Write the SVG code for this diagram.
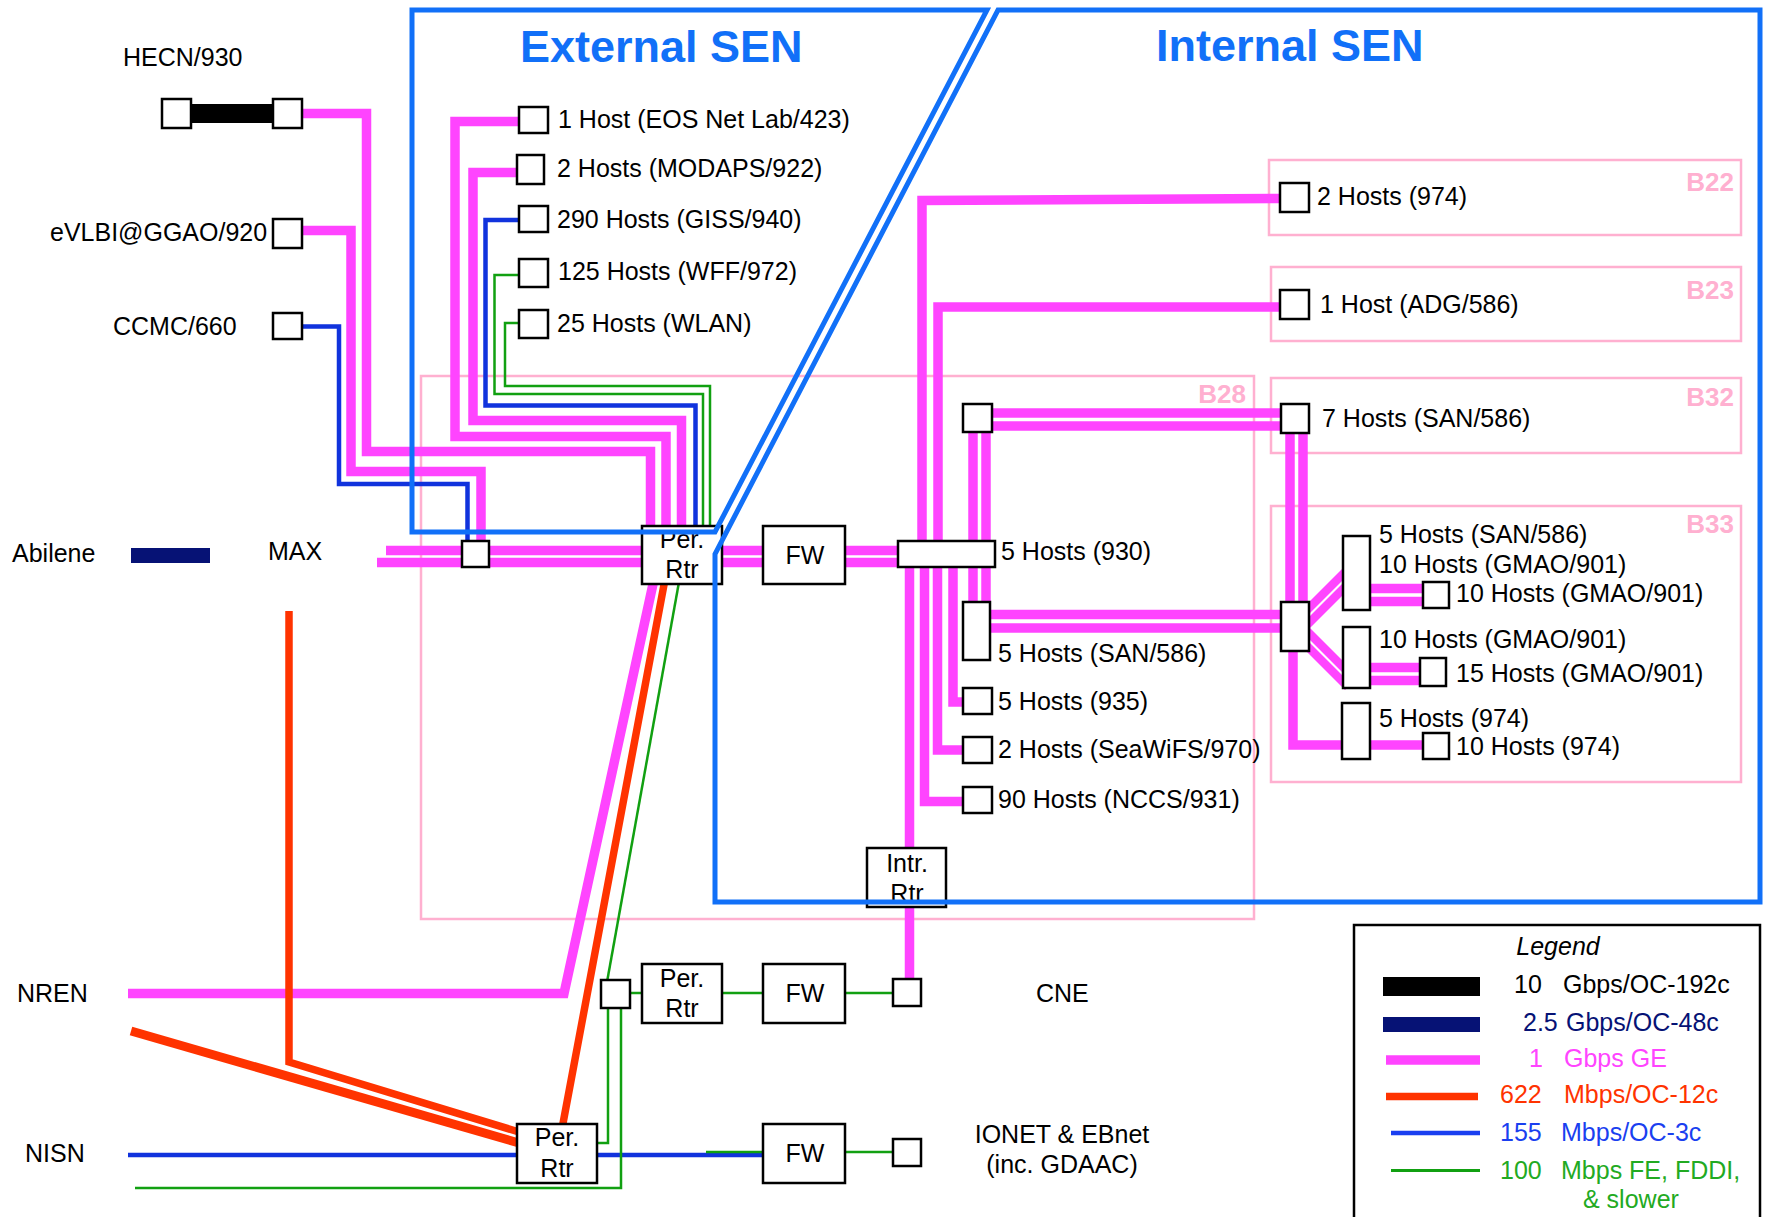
<svg xmlns="http://www.w3.org/2000/svg" width="1766" height="1217" viewBox="0 0 1766 1217">
<style>
.lbl{font-family:"Liberation Sans",Arial,sans-serif;font-size:25px;fill:#000}
.mid{text-anchor:middle}
.box{fill:#fff;stroke:#000;stroke-width:2.5}
.ge{fill:none;stroke:#ff44ff;stroke-width:9.5}
.ge2{fill:none;stroke:#ff44ff;stroke-width:8.5}
.oc12{fill:none;stroke:#ff3300;stroke-width:7.5}
.oc3{fill:none;stroke:#1133dd;stroke-width:4.5}
.fe{fill:none;stroke:#11a011;stroke-width:2.5}
.g10{fill:none;stroke:#000;stroke-width:19}
.g25{fill:none;stroke:#061275;stroke-width:15}
.bldg{fill:none;stroke:#ffb0d0;stroke-width:2.5}
.blbl{font-family:"Liberation Sans",Arial,sans-serif;font-size:26px;font-weight:bold;fill:#ffb0d0;text-anchor:end}
.sen{fill:none;stroke:#1170f8;stroke-width:5}
.title{font-family:"Liberation Sans",Arial,sans-serif;font-size:45px;font-weight:bold;fill:#1170f8}
</style>

<g id="buildings">
<rect class="bldg" x="421" y="376" width="833" height="543"/><text class="blbl" x="1246" y="403">B28</text>
<rect class="bldg" x="1269" y="160" width="472" height="75"/><text class="blbl" x="1734" y="191">B22</text>
<rect class="bldg" x="1271" y="267" width="470" height="74"/><text class="blbl" x="1734" y="299">B23</text>
<rect class="bldg" x="1271" y="378" width="470" height="75"/><text class="blbl" x="1734" y="406">B32</text>
<rect class="bldg" x="1271" y="506" width="470" height="276"/><text class="blbl" x="1734" y="533">B33</text>
</g>

<g id="connectors">
<line class="g10" x1="191" y1="113.5" x2="273" y2="113.5"/>
<line class="g25" x1="131" y1="555.5" x2="210" y2="555.5"/>
<path class="ge" d="M302,113.5 H366.5 V451.5 H650.5 V530"/>
<path class="ge" d="M302,230.5 H351 V471.5 H481 V545"/>
<path class="ge" d="M519,121.5 H455 V436.5 H666 V530"/>
<path class="ge" d="M517,172.5 H473 V420.5 H681.5 V530"/>
<path class="ge" d="M386,550.5 H900"/>
<path class="ge" d="M377,562.5 H900"/>
<path class="ge" d="M128,993.5 H564 L653,584"/>
<path class="ge" d="M909.5,560 V982"/>
<path class="ge" d="M922,545 V200.5 L1282,198.5"/>
<path class="ge" d="M938,545 V307 H1282"/>
<path class="ge" d="M973,430 V604"/>
<path class="ge" d="M986,430 V604"/>
<path class="ge" d="M990,413 H1283"/>
<path class="ge" d="M990,426 H1283"/>
<path class="ge" d="M953,565 V702 H965"/>
<path class="ge" d="M937.5,565 V750 H965"/>
<path class="ge" d="M924.5,565 V801.5 H965"/>
<path class="ge" d="M988,614.5 H1283"/>
<path class="ge" d="M988,628 H1283"/>
<path class="ge" d="M1290,431 V604"/>
<path class="ge" d="M1303,431 V604"/>
<path class="ge2" d="M1300,617 L1348,569"/>
<path class="ge2" d="M1300,632 L1348,584"/>
<path class="ge2" d="M1300,624 L1348,672"/>
<path class="ge2" d="M1300,639 L1348,687"/>
<path class="ge" d="M1368,588.5 H1425"/>
<path class="ge" d="M1368,601.5 H1425"/>
<path class="ge" d="M1368,667.5 H1422"/>
<path class="ge" d="M1368,680.5 H1422"/>
<path class="ge" d="M1293,649 V745 H1425"/>
<path class="oc12" d="M289,611 V1062 L519,1132"/>
<path class="oc12" style="stroke-width:9" d="M131,1031 L519,1143"/>
<path class="oc12" d="M664.5,582 L562.5,1126"/>
<path class="oc3" d="M302,326.5 H339 V484 H467.5 V543"/>
<path class="oc3" d="M519,220 H485.5 V405.5 H695.5 V528"/>
<path class="oc3" d="M128,1155 H765"/>
<path class="fe" d="M519,275 H494.5 V394 H703 V528"/>
<path class="fe" d="M519,323 H505 V386 H710 V528"/>
<path class="fe" d="M679,582 L607,982"/>
<path class="fe" d="M628,993 H895"/>
<path class="fe" d="M595,1143 H608 V1006"/>
<path class="fe" d="M135,1188 H621 V1006"/>
<path class="fe" d="M706,1152 H895"/>
</g>

<g id="hecn-a"><rect class="box" x="162" y="99" width="29" height="29"/></g>
<g id="hecn-b"><rect class="box" x="273" y="99" width="29" height="29"/><text class="lbl" x="123" y="66">HECN/930</text></g>
<g id="evlbi"><rect class="box" x="273" y="219" width="29" height="29"/><text class="lbl" x="50" y="241">eVLBI@GGAO/920</text></g>
<g id="ccmc"><rect class="box" x="273" y="313" width="29" height="26"/><text class="lbl" x="113" y="335">CCMC/660</text></g>
<g id="abilene"><text class="lbl" x="12" y="562">Abilene</text></g>
<g id="max"><text class="lbl" x="268" y="560">MAX</text><rect class="box" x="462" y="541" width="27" height="26"/></g>
<g id="nren"><text class="lbl" x="17" y="1002">NREN</text></g>
<g id="nisn"><text class="lbl" x="25" y="1162">NISN</text></g>

<g id="eos"><rect class="box" x="519" y="107" width="29" height="26"/><text class="lbl" x="558" y="128">1 Host (EOS Net Lab/423)</text></g>
<g id="modaps"><rect class="box" x="517" y="155" width="27" height="29"/><text class="lbl" x="557" y="177">2 Hosts (MODAPS/922)</text></g>
<g id="giss"><rect class="box" x="519" y="206" width="29" height="26"/><text class="lbl" x="557" y="228">290 Hosts (GISS/940)</text></g>
<g id="wff"><rect class="box" x="519" y="259" width="29" height="28"/><text class="lbl" x="558" y="280">125 Hosts (WFF/972)</text></g>
<g id="wlan"><rect class="box" x="519" y="310" width="29" height="28"/><text class="lbl" x="557" y="332">25 Hosts (WLAN)</text></g>

<g id="per-rtr-1"><rect class="box" x="642" y="526" width="80" height="58"/><text class="lbl mid" x="682" y="548">Per.</text><text class="lbl mid" x="682" y="578">Rtr</text></g>
<g id="fw-1"><rect class="box" x="763" y="526" width="82" height="58"/><text class="lbl mid" x="805" y="564">FW</text></g>
<g id="sw930"><rect class="box" x="898" y="541" width="97" height="26"/><text class="lbl" x="1001" y="560">5 Hosts (930)</text></g>
<g id="b28-sw"><rect class="box" x="963" y="404" width="29" height="28"/></g>
<g id="san-b28"><rect class="box" x="963" y="602" width="27" height="58"/><text class="lbl" x="998" y="662">5 Hosts (SAN/586)</text></g>
<g id="h935"><rect class="box" x="963" y="688" width="29" height="26"/><text class="lbl" x="998" y="710">5 Hosts (935)</text></g>
<g id="seawifs"><rect class="box" x="963" y="737" width="29" height="26"/><text class="lbl" x="998" y="758">2 Hosts (SeaWiFS/970)</text></g>
<g id="nccs"><rect class="box" x="963" y="787" width="29" height="26"/><text class="lbl" x="998" y="808">90 Hosts (NCCS/931)</text></g>
<g id="intr-rtr"><rect class="box" x="867" y="848" width="79" height="59"/><text class="lbl mid" x="907" y="872">Intr.</text><text class="lbl mid" x="907" y="902">Rtr</text></g>

<g id="b22-host"><rect class="box" x="1280" y="183" width="29" height="29"/><text class="lbl" x="1317" y="205">2 Hosts (974)</text></g>
<g id="b23-host"><rect class="box" x="1280" y="290" width="29" height="29"/><text class="lbl" x="1320" y="313">1 Host (ADG/586)</text></g>
<g id="b32-host"><rect class="box" x="1281" y="404" width="28" height="29"/><text class="lbl" x="1322" y="427">7 Hosts (SAN/586)</text></g>
<g id="b33-sw"><rect class="box" x="1281" y="602" width="28" height="49"/></g>
<g id="b33-box1"><rect class="box" x="1343" y="536" width="27" height="74"/><text class="lbl" x="1379" y="543">5 Hosts (SAN/586)</text><text class="lbl" x="1379" y="573">10 Hosts (GMAO/901)</text></g>
<g id="b33-gmao10"><rect class="box" x="1423" y="582" width="26" height="26"/><text class="lbl" x="1456" y="602">10 Hosts (GMAO/901)</text></g>
<g id="b33-box2"><rect class="box" x="1343" y="627" width="27" height="61"/><text class="lbl" x="1379" y="648">10 Hosts (GMAO/901)</text></g>
<g id="b33-gmao15"><rect class="box" x="1420" y="658" width="26" height="28"/><text class="lbl" x="1456" y="682">15 Hosts (GMAO/901)</text></g>
<g id="b33-box3"><rect class="box" x="1342" y="703" width="28" height="56"/><text class="lbl" x="1379" y="727">5 Hosts (974)</text></g>
<g id="b33-h974"><rect class="box" x="1423" y="733" width="26" height="26"/><text class="lbl" x="1456" y="755">10 Hosts (974)</text></g>

<g id="cne-sw"><rect class="box" x="601" y="980" width="29" height="28"/></g>
<g id="per-rtr-2"><rect class="box" x="642" y="964" width="80" height="59"/><text class="lbl mid" x="682" y="987">Per.</text><text class="lbl mid" x="682" y="1017">Rtr</text></g>
<g id="fw-2"><rect class="box" x="763" y="964" width="82" height="59"/><text class="lbl mid" x="805" y="1002">FW</text></g>
<g id="cne"><rect class="box" x="893" y="979" width="28" height="27"/><text class="lbl" x="1036" y="1002">CNE</text></g>
<g id="per-rtr-3"><rect class="box" x="517" y="1124" width="80" height="59"/><text class="lbl mid" x="557" y="1146">Per.</text><text class="lbl mid" x="557" y="1177">Rtr</text></g>
<g id="fw-3"><rect class="box" x="763" y="1124" width="82" height="59"/><text class="lbl mid" x="805" y="1162">FW</text></g>
<g id="ionet"><rect class="box" x="893" y="1139" width="28" height="27"/><text class="lbl mid" x="1062" y="1143">IONET &amp; EBnet</text><text class="lbl mid" x="1062" y="1173">(inc. GDAAC)</text></g>

<g id="external-sen">
<path class="sen" d="M412,10 H987 L715,532 H412 Z"/>
<text class="title" x="520" y="62">External SEN</text>
</g>
<g id="internal-sen">
<path class="sen" d="M998,10 H1760 V902 H715 V554 Z"/>
<text class="title" x="1156" y="61">Internal SEN</text>
</g>

<g id="legend">
<rect x="1354" y="925" width="406" height="300" fill="#fff" stroke="#000" stroke-width="2.5"/>
<text class="lbl mid" x="1558" y="955" font-style="italic">Legend</text>
<line class="g10" x1="1383" y1="986.5" x2="1480" y2="986.5"/>
<text class="lbl" x="1514" y="993">10</text><text class="lbl" x="1563" y="993">Gbps/OC-192c</text>
<line class="g25" x1="1383" y1="1024.5" x2="1480" y2="1024.5"/>
<text class="lbl" x="1523" y="1031" style="fill:#061275">2.5</text><text class="lbl" x="1566" y="1031" style="fill:#061275">Gbps/OC-48c</text>
<line class="ge" x1="1386" y1="1060" x2="1480" y2="1060"/>
<text class="lbl" x="1529" y="1067" style="fill:#ff44ff">1</text><text class="lbl" x="1564" y="1067" style="fill:#ff44ff">Gbps GE</text>
<line class="oc12" x1="1386" y1="1096.5" x2="1478" y2="1096.5"/>
<text class="lbl" x="1500" y="1103" style="fill:#ff3300">622</text><text class="lbl" x="1564" y="1103" style="fill:#ff3300">Mbps/OC-12c</text>
<line class="oc3" style="stroke:#1a3ff0" x1="1391" y1="1133" x2="1480" y2="1133"/>
<text class="lbl" x="1500" y="1141" style="fill:#1a3ff0">155</text><text class="lbl" x="1561" y="1141" style="fill:#1a3ff0">Mbps/OC-3c</text>
<line class="fe" style="stroke-width:3" x1="1391" y1="1170.5" x2="1480" y2="1170.5"/>
<text class="lbl" x="1500" y="1179" style="fill:#22aa22">100</text><text class="lbl" x="1561" y="1179" style="fill:#22aa22">Mbps FE, FDDI,</text>
<text class="lbl" x="1583" y="1208" style="fill:#22aa22">&amp; slower</text>
</g>
</svg>
